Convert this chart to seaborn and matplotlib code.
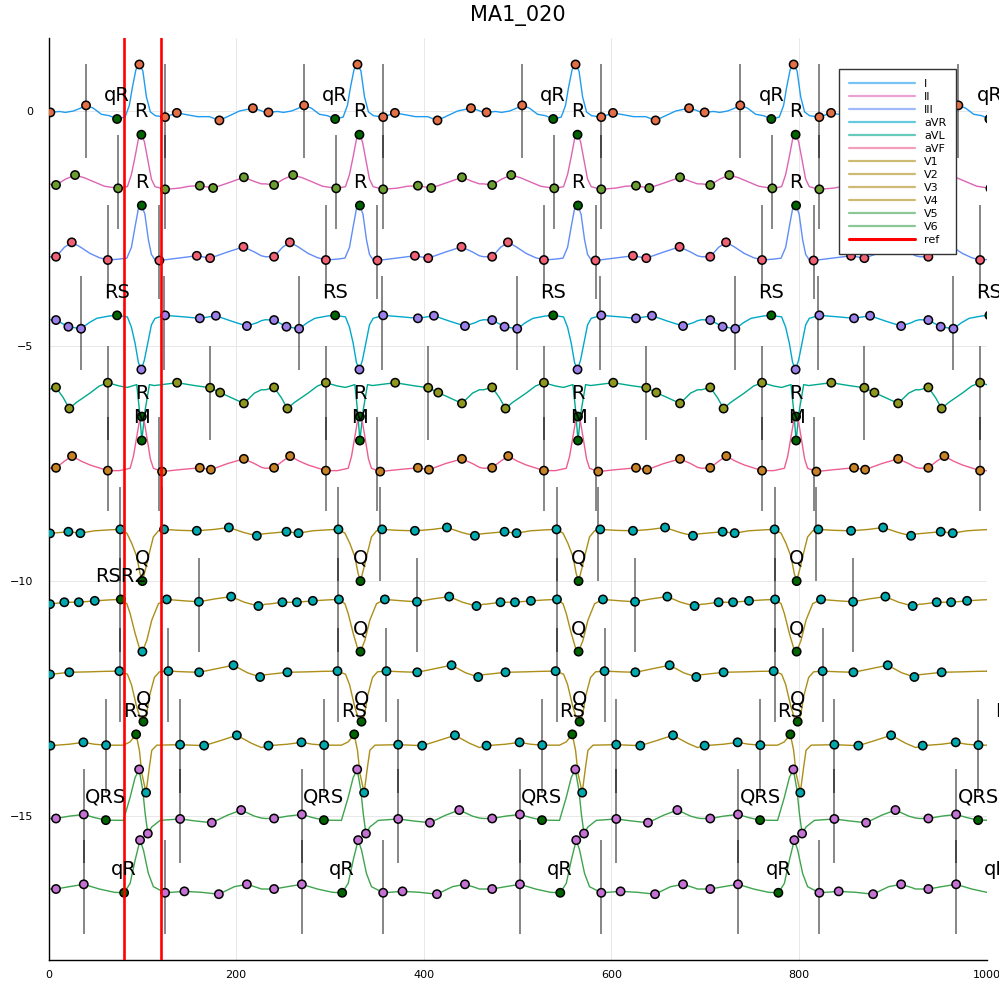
import numpy as np
import pandas as pd
import matplotlib
matplotlib.use("Agg")
import matplotlib.pyplot as plt
import seaborn as sns
from matplotlib.lines import Line2D

# ---------------- data ----------------
leads = ["I", "II", "III", "aVR", "aVL", "aVF", "V1", "V2", "V3", "V4", "V5", "V6"]
r_peaks = [96.9, 329.4, 561.9, 794.4, 1026.9]   # beat reference positions (samples)
ref_x = [80, 120]

# template per lead: (offset from beat reference, value, marker flag)
# flag: 0 none, 1 lead marker, 2 labelled fiducial (green), 3 marker in first beat only
I_pts = [(-98.1, -0.03, 0), (-94.9, -0.03, 1), (-85.3, -0.01, 0), (-78.9, -0.03, 0), (-70.4, 0.0, 0),
         (-64.0, 0.05, 0), (-56.9, 0.12, 1), (-49.1, 0.06, 0), (-40.5, -0.07, 0), (-32.0, -0.10, 0),
         (-23.8, -0.17, 2), (-15.3, -0.13, 0), (-10.7, 0.12, 0), (-7.5, 0.50, 0), (-3.7, 0.88, 0),
         (0.0, 0.99, 1), (3.7, 0.85, 0), (7.5, 0.30, 0), (11.7, -0.02, 0), (17.1, -0.10, 0),
         (27.4, -0.13, 1), (39.9, -0.04, 1), (51.2, -0.08, 0), (61.9, -0.12, 0), (74.7, -0.12, 0),
         (85.3, -0.20, 1), (96.0, -0.10, 0), (106.7, 0.0, 0), (121.0, 0.06, 1), (128.0, 0.02, 0)]
II_pts = [(-98.1, -1.55, 0), (-88.9, -1.574, 1), (-78.9, -1.45, 0), (-68.6, -1.362, 1), (-58.7, -1.42, 0),
          (-49.1, -1.50, 0), (-37.3, -1.60, 0), (-22.7, -1.645, 1), (-12.8, -1.61, 0), (-8.5, -1.35, 0),
          (-4.6, -0.97, 0), (-1.1, -0.60, 0), (2.1, -0.504, 2), (5.3, -0.65, 0), (9.6, -1.11, 0),
          (12.8, -1.45, 0), (16.7, -1.61, 0), (27.4, -1.666, 1), (42.7, -1.64, 0), (53.3, -1.60, 0),
          (64.4, -1.589, 1), (78.6, -1.638, 1), (96.0, -1.52, 0), (111.4, -1.41, 1), (122.7, -1.50, 0),
          (130.0, -1.55, 0)]
III_pts = [(-98.1, -3.10, 0), (-88.9, -3.10, 1), (-80.0, -2.90, 0), (-72.1, -2.794, 1), (-64.0, -2.88, 0),
           (-52.6, -3.03, 0), (-42.7, -3.12, 0), (-33.7, -3.17, 1), (-21.3, -3.15, 0), (-13.4, -3.13, 0),
           (-8.5, -2.90, 0), (-4.6, -2.46, 0), (-1.1, -2.08, 0), (2.6, -2.01, 2), (5.9, -2.20, 0),
           (9.6, -2.74, 0), (12.8, -3.05, 0), (16.7, -3.17, 0), (21.3, -3.18, 1), (37.3, -3.14, 0),
           (61.2, -3.08, 1), (75.4, -3.13, 1), (93.9, -3.00, 0), (110.9, -2.89, 1), (122.7, -3.00, 0),
           (130.0, -3.08, 0)]
aVR_pts = [(-98.1, -4.44, 0), (-88.9, -4.447, 1), (-75.7, -4.589, 1), (-62.2, -4.632, 1), (-53.3, -4.50, 0),
           (-45.4, -4.41, 0), (-32.0, -4.36, 0), (-23.8, -4.347, 2), (-12.8, -4.38, 0), (-8.5, -4.60, 0),
           (-4.6, -4.94, 0), (-1.1, -5.35, 0), (2.1, -5.50, 1), (5.3, -5.30, 0), (9.6, -4.87, 0),
           (12.8, -4.55, 0), (16.7, -4.41, 0), (27.4, -4.347, 1), (48.0, -4.38, 0), (64.4, -4.41, 1),
           (81.5, -4.355, 1), (98.1, -4.47, 0), (114.6, -4.574, 1), (125.9, -4.50, 0), (130.0, -4.46, 0)]
aVL_pts = [(-98.1, -5.93, 0), (-88.9, -5.88, 1), (-81.1, -6.10, 0), (-74.7, -6.33, 1), (-67.2, -6.20, 0),
           (-52.6, -6.00, 0), (-42.7, -5.85, 0), (-33.7, -5.78, 1), (-21.3, -5.85, 0), (-12.8, -5.88, 0),
           (-2.8, -5.82, 0), (0.0, -6.36, 0), (2.6, -7.01, 2), (6.1, -6.36, 0), (10.7, -5.82, 0),
           (16.0, -5.84, 0), (40.2, -5.78, 1), (58.7, -5.84, 0), (75.4, -5.887, 1), (86.1, -5.99, 1),
           (111.4, -6.22, 1), (122.7, -6.00, 0), (130.0, -5.93, 0)]
aVF_pts = [(-98.1, -7.60, 0), (-88.9, -7.59, 1), (-80.0, -7.45, 0), (-71.8, -7.34, 1), (-61.9, -7.45, 0),
           (-52.6, -7.53, 0), (-33.7, -7.65, 1), (-21.3, -7.65, 0), (-9.9, -7.60, 0), (-6.4, -7.35, 0),
           (-2.8, -6.93, 0), (0.0, -6.60, 0), (2.6, -6.50, 2), (5.3, -6.62, 0), (7.9, -6.93, 0),
           (11.7, -7.40, 0), (14.9, -7.60, 0), (24.2, -7.67, 1), (42.7, -7.63, 0), (64.4, -7.59, 1),
           (76.2, -7.63, 1), (93.9, -7.50, 0), (111.4, -7.40, 1), (122.7, -7.50, 0), (130.0, -7.58, 0)]
V1_pts = [(-98.1, -8.99, 0), (-95.3, -8.985, 3), (-75.7, -8.95, 1), (-62.9, -8.98, 1), (-48.0, -8.93, 0),
          (-32.0, -8.91, 0), (-20.3, -8.90, 1), (-13.4, -8.98, 0), (-8.1, -9.20, 0), (-2.8, -9.48, 0),
          (0.7, -9.84, 0), (3.2, -10.00, 2), (7.1, -9.70, 0), (9.6, -9.48, 0), (14.9, -9.06, 0),
          (20.3, -8.93, 0), (26.3, -8.90, 1), (42.7, -8.92, 0), (61.2, -8.93, 1), (80.0, -8.90, 0),
          (95.4, -8.86, 1), (112.0, -8.97, 0), (125.2, -9.036, 1), (130.0, -9.00, 0)]
V2_pts = [(-98.1, -10.49, 0), (-95.3, -10.49, 3), (-80.0, -10.45, 1), (-64.6, -10.45, 1), (-47.6, -10.42, 1),
          (-32.0, -10.40, 0), (-19.8, -10.39, 1), (-13.4, -10.48, 0), (-9.9, -10.69, 0), (-4.6, -11.11, 0),
          (0.7, -11.47, 0), (3.2, -11.50, 2), (7.9, -11.26, 0), (13.2, -10.83, 0), (20.3, -10.48, 0),
          (29.2, -10.39, 1), (48.0, -10.42, 0), (63.4, -10.44, 1), (80.0, -10.38, 0), (97.8, -10.33, 1),
          (112.0, -10.45, 0), (126.9, -10.53, 1), (130.0, -10.52, 0)]
V3_pts = [(-98.1, -11.99, 0), (-95.3, -11.985, 3), (-74.7, -11.94, 1), (-53.3, -11.93, 0), (-37.3, -11.92, 0),
          (-21.3, -11.915, 1), (-12.8, -11.98, 0), (-8.5, -12.20, 0), (-3.2, -12.65, 0), (1.1, -12.93, 0),
          (4.3, -12.99, 2), (7.5, -12.85, 0), (10.7, -12.45, 0), (16.0, -12.05, 0), (21.3, -11.93, 0),
          (30.9, -11.915, 1), (48.0, -11.93, 0), (63.7, -11.94, 1), (83.2, -11.86, 0), (100.3, -11.79, 1),
          (115.2, -11.95, 0), (128.7, -12.04, 1)]
V4_pts = [(-98.1, -13.52, 0), (-94.9, -13.50, 1), (-74.7, -13.47, 0), (-59.7, -13.43, 1), (-48.0, -13.47, 0),
          (-35.5, -13.49, 1), (-17.1, -13.49, 0), (-9.9, -13.42, 0), (-3.5, -13.26, 2), (0.0, -13.60, 0),
          (2.6, -14.09, 0), (7.1, -14.50, 1), (10.7, -13.95, 0), (13.2, -13.60, 0), (18.6, -13.49, 0),
          (43.4, -13.48, 1), (69.0, -13.50, 1), (85.3, -13.40, 0), (103.9, -13.28, 1), (119.5, -13.45, 0),
          (130.0, -13.54, 0)]
V5_pts = [(-98.1, -15.05, 0), (-88.9, -15.05, 1), (-74.7, -15.00, 0), (-59.3, -14.964, 1), (-48.0, -15.03, 0),
          (-35.8, -15.085, 2), (-17.1, -15.09, 0), (-9.9, -14.60, 0), (-4.6, -14.18, 0), (-0.3, -14.006, 1),
          (3.6, -14.45, 0), (6.1, -14.94, 0), (9.0, -15.37, 1), (13.2, -15.23, 0), (22.1, -15.09, 0),
          (43.4, -15.06, 1), (58.7, -15.10, 0), (77.2, -15.14, 1), (93.9, -14.98, 0), (108.5, -14.87, 1),
          (122.7, -15.00, 0), (130.0, -15.04, 0)]
V6_pts = [(-98.1, -16.55, 0), (-88.9, -16.55, 1), (-74.7, -16.50, 0), (-59.3, -16.45, 1), (-42.7, -16.55, 0),
          (-26.7, -16.62, 0), (-16.3, -16.63, 2), (-9.9, -16.43, 0), (-4.6, -15.94, 0), (0.7, -15.51, 1),
          (4.3, -15.72, 0), (9.6, -16.22, 0), (14.9, -16.50, 0), (27.4, -16.63, 1), (48.0, -16.60, 1),
          (66.1, -16.62, 0), (84.7, -16.66, 1), (101.3, -16.50, 0), (114.6, -16.45, 1), (125.9, -16.52, 0),
          (130.0, -16.55, 0)]

templates = [I_pts, II_pts, III_pts, aVR_pts, aVL_pts, aVF_pts,
             V1_pts, V2_pts, V3_pts, V4_pts, V5_pts, V6_pts]
fid_labels = ["qR", "R", "R", "RS", "M", "R", "Q", "Q", "Q", "RS", "QRS", "qR"]
# first beat of V2 is labelled differently
first_beat_lead = "V2"
first_beat_label = "RSR2"
first_beat_offset = -19.8

vline_offsets = [[-56.9, 27.4], [-22.7, 27.4], [-33.7, 21.3], [-62.2, 26.3], [-33.7, 75.4], [-33.7, 21.3],
                 [-20.3, 24.2], [-20.3, 63.4], [-20.3, 30.9], [-35.5, 43.4], [-59.3, 43.4], [-59.3, 27.4]]
vline_centres = [0, -1.5, -3, -4.5, -6, -7.5, -9, -10.5, -12, -13.5, -15, -16.5]

line_colors = ["#1F9CF0", "#DD64B5", "#618DF6", "#00A8CB", "#00A98D", "#ED5E93",
               "#AC8E18", "#AC8E18", "#AC8E18", "#AC8E18", "#3EA44E", "#3EA44E"]
marker_colors = ["#E36F47", "#6A9D2F", "#F06173", "#9B7FE9", "#8E971E", "#C68225",
                 "#00A9AD", "#00A9AD", "#00A9AD", "#00A9AD", "#C371D2", "#C371D2"]
fid_color = "#006400"

# ---------------- build tables ----------------
trace_rows, mark_rows, label_rows, vl_rows = [], [], [], []
for li, lead in enumerate(leads):
    for k, r in enumerate(r_peaks):
        for d, y, m in templates[li]:
            x = r + d
            trace_rows.append((lead, x, y))
            flag = m
            if flag == 3:
                flag = 1 if k == 0 else 0
            if lead == first_beat_lead and k == 0:
                if flag == 2:
                    flag = 1
                if abs(d - first_beat_offset) < 1e-6:
                    flag = 2
                    label_rows.append((x, y + 0.49, first_beat_label))
            elif flag == 2:
                label_rows.append((x, y + 0.49, fid_labels[li]))
            if flag == 1:
                mark_rows.append((x, y, marker_colors[li]))
            elif flag == 2:
                mark_rows.append((x, y, fid_color))
        for d in vline_offsets[li]:
            vl_rows.append((r + d, vline_centres[li]))

traces = pd.DataFrame(trace_rows, columns=["lead", "x", "y"])
marks = pd.DataFrame(mark_rows, columns=["x", "y", "c"])

# ---------------- plot ----------------
sns.set_style("white")
plt.rcParams["font.family"] = ["DejaVu Sans"]
plt.rcParams["text.color"] = "black"
plt.rcParams["axes.labelcolor"] = "black"
fig = plt.figure(figsize=(9.99, 9.99), dpi=100)
ax = fig.add_axes([48.5 / 999, 39 / 999, 938 / 999, 922 / 999])

sns.lineplot(data=traces, x="x", y="y", hue="lead", hue_order=leads,
             palette=dict(zip(leads, line_colors)), sort=True, estimator=None,
             lw=1.0, legend=False, ax=ax, zorder=2)

for x, c in vl_rows:
    ax.vlines(x, c - 1, c + 1, colors="black", alpha=0.6, lw=1.1, zorder=3)

sns.scatterplot(data=marks, x="x", y="y", hue="c", palette={c: c for c in marks["c"].unique()},
                s=36, edgecolor="black", linewidth=1.1, legend=False, ax=ax, zorder=4)

for xr in ref_x:
    ax.axvline(xr, color="#FF0000", lw=1.9, zorder=5)

for x, y, t in label_rows:
    ax.text(x, y, t, ha="center", va="center", fontsize=14, color="black",
            zorder=6, clip_on=False)

ax.set_xlim(0, 1000)
ax.set_ylim(-18.06, 1.553)
ax.set_xticks([0, 200, 400, 600, 800, 1000])
ax.set_yticks([0, -5, -10, -15])
ax.set_xlabel("")
ax.set_ylabel("")
ax.grid(True, color="#e8e8e8", lw=0.7, zorder=0)
ax.set_axisbelow(True)
for s in ["top", "right"]:
    ax.spines[s].set_visible(False)
for s in ["left", "bottom"]:
    ax.spines[s].set_color("black")
    ax.spines[s].set_linewidth(1.0)
ax.tick_params(direction="in", length=4, width=0.8, labelsize=8, colors="black")
ax.tick_params(axis="y", pad=11)
ax.tick_params(axis="x", pad=7)
ax.set_title("MA1_020", fontsize=15, pad=12, color="black")

handles = [Line2D([], [], color=c, lw=1.6, alpha=0.6) for c in line_colors]
handles.append(Line2D([], [], color="#FF0000", lw=2.2))
leg = ax.legend(handles, leads + ["ref"], loc="upper left", bbox_to_anchor=(0.843, 0.966),
                borderaxespad=0, fontsize=8, labelspacing=0.27, handlelength=6.0,
                handletextpad=0.8, borderpad=0.85, fancybox=False, framealpha=1,
                edgecolor="#333333")
leg.get_frame().set_linewidth(1.0)
leg.set_zorder(10)

fig.savefig("out.png", dpi=100)
